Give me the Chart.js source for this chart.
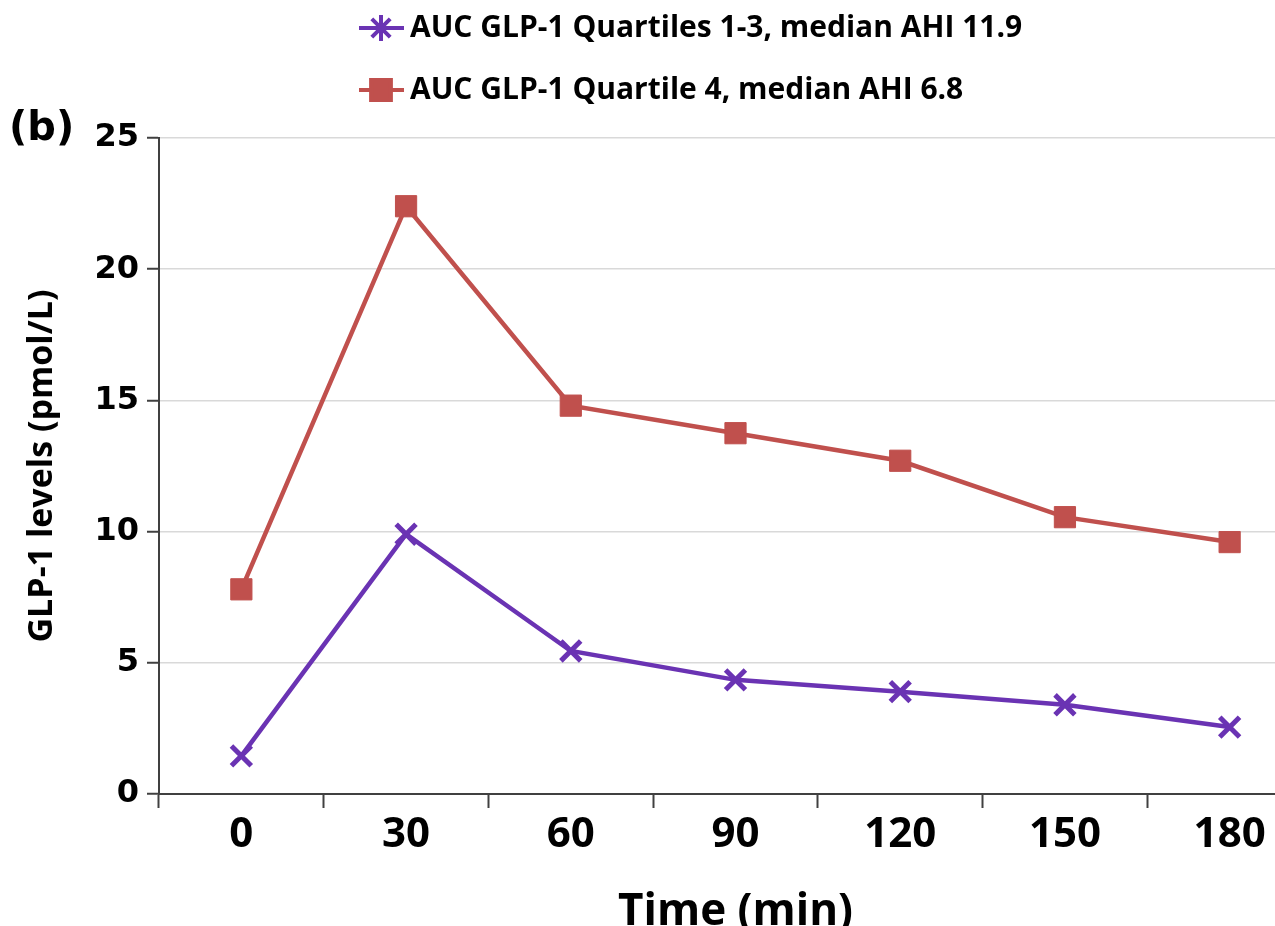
<!DOCTYPE html>
<html>
<head>
<meta charset="utf-8">
<script src="https://cdn.jsdelivr.net/npm/chart.js@4.4.1/dist/chart.umd.min.js"></script>
<style>
  html, body { margin: 0; padding: 0; background: #fff; overflow: hidden; }
  #wrap { width: 1275px; height: 926px; overflow: hidden; position: relative; }
  #chart { display: block; }
</style>
</head>
<body>
<div id="wrap"><canvas id="chart" width="1331" height="926"></canvas></div>
<script>
// data
const timeLabels = ['0', '30', '60', '90', '120', '150', '180'];
const lowGroup = [1.45, 9.9, 5.45, 4.35, 3.9, 3.4, 2.55];      // quartiles 1-3
const highGroup = [7.8, 22.4, 14.8, 13.75, 12.7, 10.55, 9.6];  // quartile 4
const yTicks = [0, 5, 10, 15, 20, 25];

const purple = '#6a33b3';
const red = '#c0504d';
const sans = '"Open Sans", sans-serif';

// legend stacked above the plot, line + marker like the original
const topLegend = {
    id: 'topLegend',
    afterDraw(chart) {
        const ctx = chart.ctx;
        const rows = [28, 90];
        const styles = ['star', 'rect'];
        ctx.save();
        chart.data.datasets.forEach((ds, i) => {
            const y = rows[i];
            ctx.strokeStyle = ds.borderColor;
            ctx.fillStyle = ds.borderColor;
            ctx.lineWidth = 4;
            ctx.beginPath();
            ctx.moveTo(359, y);
            ctx.lineTo(404, y);
            ctx.stroke();
            Chart.helpers.drawPoint(ctx, {
                pointStyle: styles[i],
                radius: i === 0 ? 13 : 14,
                borderWidth: i === 0 ? 5 : 1,
                rotation: 0
            }, 381, y);
            ctx.fillStyle = '#000';
            ctx.font = 'bold 30px ' + sans;
            ctx.textBaseline = 'middle';
            ctx.textAlign = 'left';
            ctx.fillText(ds.label, 410, y);
        });
        ctx.font = 'bold 40px "DejaVu Sans", Verdana, sans-serif';
        ctx.fillStyle = '#000';
        ctx.textBaseline = 'middle';
        ctx.fillText('(b)', 9, 130);
        ctx.restore();
    }
};

document.addEventListener('DOMContentLoaded', () => {
    const ctx = document.getElementById('chart').getContext('2d');

    new Chart(ctx, {
        type: 'line',
        data: {
            labels: timeLabels,
            datasets: [
                {
                    label: 'AUC GLP-1 Quartiles 1-3, median AHI 11.9',
                    data: lowGroup,
                    borderColor: purple,
                    backgroundColor: purple,
                    borderWidth: 4.5,
                    pointStyle: 'crossRot',
                    pointRadius: 14,
                    pointBorderWidth: 5,
                    tension: 0
                },
                {
                    label: 'AUC GLP-1 Quartile 4, median AHI 6.8',
                    data: highGroup,
                    borderColor: red,
                    backgroundColor: red,
                    borderWidth: 4.5,
                    pointStyle: 'rect',
                    pointRadius: 15,
                    pointBorderWidth: 1,
                    tension: 0
                }
            ]
        },
        options: {
            responsive: false,
            animation: false,
            devicePixelRatio: 1,
            layout: { padding: { top: 138, right: 0, bottom: 0, left: 0 } },
            plugins: {
                legend: { display: false },
                tooltip: { enabled: false }
            },
            scales: {
                x: {
                    offset: true,
                    grid: {
                        offset: true,
                        drawOnChartArea: false,
                        tickColor: '#404040',
                        tickLength: 14,
                        tickWidth: 2
                    },
                    border: { color: '#404040', width: 2 },
                    ticks: {
                        color: '#000',
                        padding: 2,
                        font: { family: sans, size: 42, weight: 'bold' }
                    },
                    title: {
                        display: true,
                        text: 'Time (min)',
                        color: '#000',
                        padding: 0,
                        font: { family: sans, size: 44, weight: 'bold', lineHeight: 0.6 }
                    },
                    afterFit: (scale) => { scale.height = 132; }
                },
                y: {
                    min: 0,
                    max: 25,
                    afterBuildTicks: (scale) => { scale.ticks = yTicks.map(v => ({ value: v })); },
                    grid: {
                        color: (c) => c.tick && c.tick.value === 0 ? 'rgba(0,0,0,0)' : '#d9d9d9',
                        lineWidth: 1.5,
                        tickColor: '#404040',
                        tickLength: 12,
                        tickWidth: 2
                    },
                    border: { color: '#404040', width: 2 },
                    ticks: {
                        color: '#000',
                        padding: 8,
                        font: { family: '"DejaVu Sans", Verdana, sans-serif', size: 32, weight: 'bold' }
                    },
                    title: {
                        display: true,
                        text: 'GLP-1 levels (pmol/L)',
                        color: '#000',
                        padding: { top: 22, bottom: 0 },
                        font: { family: sans, size: 34, weight: 'bold' }
                    },
                    afterFit: (scale) => { scale.width = 159; }
                }
            }
        },
        plugins: [topLegend]
    });
});
</script>
</body>
</html>
